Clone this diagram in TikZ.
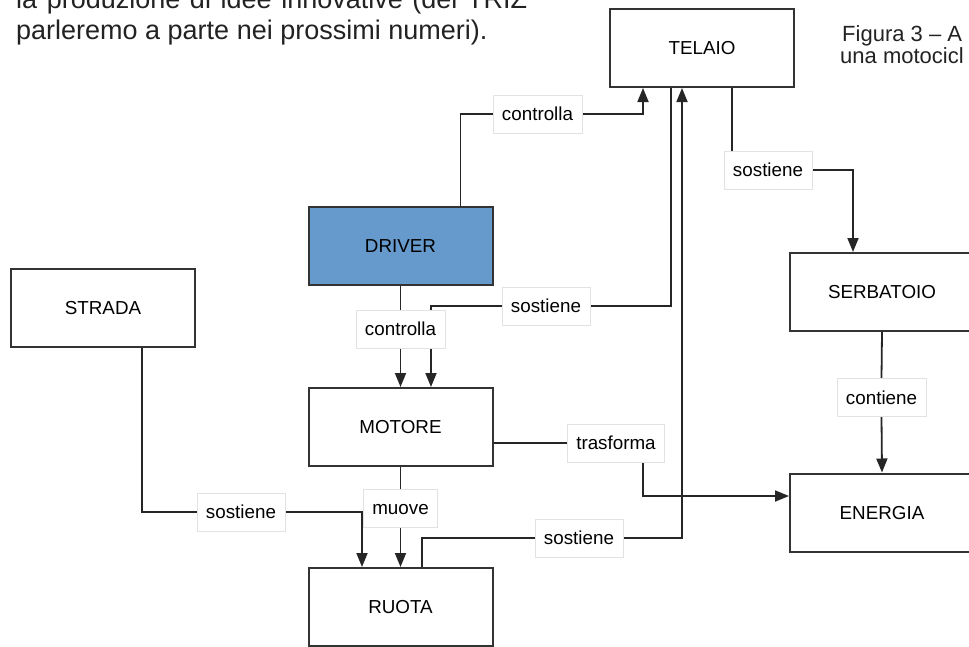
\documentclass[tikz,border=0pt]{standalone}
\usepackage{fontspec}
\setmainfont{Liberation Sans}
\usetikzlibrary{arrows.meta}
\pgfdeclarelayer{wires}
\pgfsetlayers{wires,main}

\definecolor{boxline}{HTML}{333333}
\definecolor{wire}{HTML}{262626}
\definecolor{driverblue}{HTML}{6699CC}
\definecolor{tagline}{HTML}{E2E2E2}
\definecolor{prose}{HTML}{222222}

\begin{document}
\begin{tikzpicture}[x=1pt,y=-1pt,
  block/.style={draw=boxline,line width=2pt,fill=white,
    minimum width=184pt,minimum height=78pt,inner sep=0pt,
    text height=13.5pt,text depth=0pt,font=\fontsize{18.8}{20}\selectfont},
  tag/.style={draw=tagline,line width=0.8pt,fill=white,
    minimum height=38pt,inner xsep=9pt,inner ysep=0pt,
    text height=13.5pt,text depth=0pt,font=\fontsize{18.8}{20}\selectfont},
  wireline/.style={draw=wire,line width=1.8pt},
  arr/.style={wireline,-{Triangle[length=14pt,width=11pt]}},
  prosetext/.style={anchor=base west,inner sep=0pt,text=prose}]

\useasboundingbox (0,0) rectangle (969,646);
\clip (0,0) rectangle (969,646);

% running text of the article
\node[prosetext,font=\fontsize{27}{30}\selectfont] (line1) at (16,8)
  {\makebox[511pt][s]{la produzione di idee innovative (del TRIZ}};
\node[prosetext,font=\fontsize{27}{30}\selectfont] (line2) at (16,39)
  {parleremo a parte nei prossimi numeri).};

% figure caption
\node[prosetext,font=\fontsize{22}{24}\selectfont] (cap1) at (842,41) {Figura 3 – A};
\node[prosetext,font=\fontsize{22}{24}\selectfont] (cap2) at (840,63) {una motocicl};

% concept boxes
\node[block] (TELAIO) at (702,48) {TELAIO};
\node[block,fill=driverblue] (DRIVER) at (400.5,245.5) {DRIVER};
\node[block] (STRADA) at (103,308) {STRADA};
\node[block] (MOTORE) at (400.5,427) {MOTORE};
\node[block] (RUOTA) at (400.5,607) {RUOTA};
\node[block] (SERBATOIO) at (882,292) {SERBATOIO};
\node[block] (ENERGIA) at (882,512.5) {ENERGIA};

% relation labels
\node[tag] (c1) at (537.5,114) {controlla};
\node[tag] (c2) at (400.5,329) {controlla};
\node[tag] (s1) at (546,306) {sostiene};
\node[tag] (s2) at (768,170) {sostiene};
\node[tag] (s3) at (241,512) {sostiene};
\node[tag] (s4) at (579,538) {sostiene};
\node[tag] (m) at (400.5,508) {muove};
\node[tag] (t) at (616,443) {trasforma};
\node[tag] (ct) at (881.5,397.5) {contiene};

\coordinate (tdrop) at ([xshift=30pt]TELAIO.south);

% connectors, kept beneath the labels
\begin{pgfonlayer}{wires}
  \draw[wireline] ([xshift=60pt]DRIVER.north) |- (c1.west);
  \draw[arr] (c1.east) -| ([xshift=-59pt]TELAIO.south);

  \draw[wireline] (DRIVER.south) -- (c2.north);
  \draw[arr] (c2.south) -- (MOTORE.north);

  \draw[wireline] ([xshift=-31pt]TELAIO.south) |- (s1.east);
  \draw[arr] (s1.west) -| ([xshift=30.5pt]MOTORE.north);

  \draw[wireline] (tdrop) -- (tdrop |- s2.north);
  \draw[arr] (s2.east) -| ([xshift=-29pt]SERBATOIO.north);

  \draw[wireline] ([xshift=39pt]STRADA.south) |- (s3.west);
  \draw[arr] (s3.east) -| ([xshift=-38.5pt]RUOTA.north);

  \draw[wireline] (MOTORE.south) -- (m.north);
  \draw[arr] (m.south) -- (RUOTA.north);

  \draw[wireline] ([xshift=21.5pt]RUOTA.north) |- (s4.west);
  \draw[arr] (s4.east) -| ([xshift=-20pt]TELAIO.south);

  \draw[wireline] ([yshift=-16pt]MOTORE.east) -- (t.west);
  \draw[arr] ([xshift=27pt]t.south) |- ([yshift=16.5pt]ENERGIA.west);

  \draw[wireline] (SERBATOIO.south) -- (ct.north);
  \draw[arr] (ct.south) -- (ENERGIA.north);
\end{pgfonlayer}
\end{tikzpicture}
\end{document}
